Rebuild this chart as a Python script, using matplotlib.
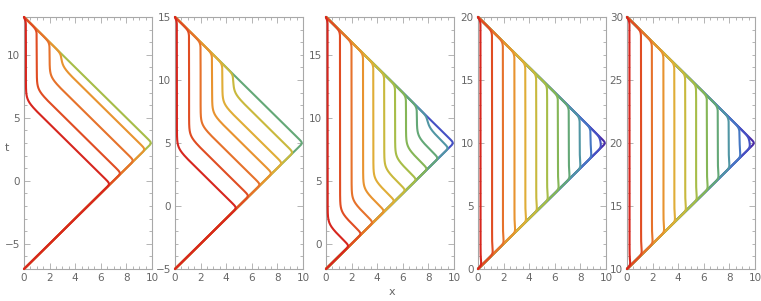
import numpy as np
import matplotlib
matplotlib.use("Agg")
import matplotlib.pyplot as plt
from matplotlib.ticker import MultipleLocator

# ---------- data ----------
# t of the lower-left vertex of each triangle (apex at x=10, t_lo+10; top at t_lo+20)
T_LO = [-7, -5, -2, 0, 10]
# how far right the slanted part carries each curve before it turns
TURN_SHIFT = [6.6, 4.7, 1.7, 0.0, 0.0]
# x of the vertical part of each curve (last value: curve lying on the boundary)
PLATEAU_X = [
    [0.15, 1.0, 2.0, 2.9, 11.0],
    [0.15, 1.1, 2.0, 2.9, 3.7, 4.55, 11.0],
    [0.13, 1.1, 2.0, 2.9, 3.7, 4.55, 5.4, 6.25, 7.1, 7.9, 11.0],
    [0.2, 1.1, 1.95, 2.85, 3.7, 4.55, 5.4, 6.25, 7.1, 7.95, 8.8, 9.55, 11.0],
    [0.2, 1.1, 1.95, 2.85, 3.7, 4.55, 5.4, 6.25, 7.1, 7.95, 8.8, 9.55, 11.0],
]
# colour of each curve, index into RAINBOW
COLOR_IDX = [
    [0, 1, 2, 3, 6],
    [0, 1, 2, 3, 4, 5, 8],
    [0, 1, 2, 3, 4, 5, 6, 7, 8, 9, 11],
    list(range(13)),
    list(range(13)),
]
RAINBOW = ["#d7261e", "#e04d23", "#e6722b", "#e8932f", "#e0ad37", "#c9b93d",
           "#a7bd48", "#85b657", "#64a877", "#5196a4", "#4577c3", "#4450c4",
           "#4a2ba6"]
Y_MAJOR = [5, 5, 5, 5, 5]

FRAME = "#a8a8a8"
LABEL = "#666666"


def smin(a, b, s):
    return -s * np.logaddexp(-a / s, -b / s)


def smax(a, b, s):
    return s * np.logaddexp(a / s, b / s)


def curve(t_lo, shift, xk):
    t = np.linspace(t_lo, t_lo + 20, 3000)
    lower = t - t_lo
    upper = t_lo + 20 - t
    c = 2 * xk + 2 * shift + t_lo
    mid = smax(np.full_like(t, xk), c - t, 0.28)
    x = smin(lower, mid, 0.16)
    x = smin(x, upper, 0.14)
    return np.clip(x, 0, None), t


fig = plt.figure(figsize=(7.61, 3.01), dpi=100)
lefts = [24, 175, 326, 478, 627]

for p in range(5):
    ax = fig.add_axes([lefts[p] / 761, 32 / 301, 128 / 761, 252 / 301])
    t_lo = T_LO[p]
    # first curves on top, so the boundary shows the colour of the curve that just left it
    for k in reversed(range(len(PLATEAU_X[p]))):
        x, t = curve(t_lo, TURN_SHIFT[p], PLATEAU_X[p][k])
        ax.plot(x, t, color=RAINBOW[COLOR_IDX[p][k]], lw=1.5,
                solid_capstyle="round", clip_on=False, zorder=3 + 0.01 * (20 - k))

    ax.set_xlim(0, 10)
    ax.set_ylim(t_lo, t_lo + 20)
    ax.xaxis.set_major_locator(MultipleLocator(2))
    ax.xaxis.set_minor_locator(MultipleLocator(0.5))
    ax.yaxis.set_major_locator(MultipleLocator(Y_MAJOR[p]))
    ax.yaxis.set_minor_locator(MultipleLocator(1))
    ax.tick_params(which="both", direction="in", top=True, right=True,
                   color=FRAME, width=0.6, labelsize=7.5, labelcolor=LABEL)
    ax.tick_params(which="major", length=4, pad=3)
    ax.tick_params(which="minor", length=2)
    for sp in ax.spines.values():
        sp.set_color(FRAME)
        sp.set_linewidth(0.8)

fig.text(7 / 761, 1 - 148 / 301, "t", fontsize=8, color=LABEL, ha="center", va="center")
fig.text(392 / 761, 1 - 292 / 301, "x", fontsize=8, color=LABEL, ha="center", va="center")

fig.savefig("out.png", dpi=100)
